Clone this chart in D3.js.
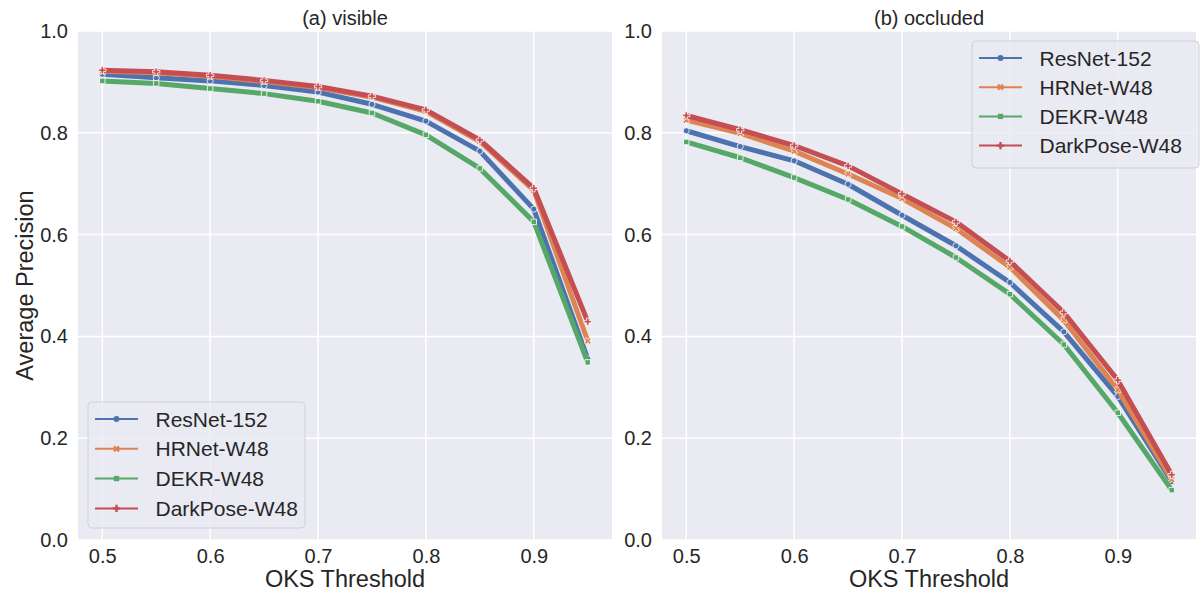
<!DOCTYPE html>
<html lang='en'>
<head>
<meta charset='utf-8'>
<title>OKS threshold vs AP</title>
<script src='https://cdn.jsdelivr.net/npm/d3@7/dist/d3.min.js'></script>
<style>
  body { margin: 0; background: #ffffff; }
  text { font-family: 'Liberation Sans', Arial, sans-serif; fill: #262626; }
</style>
</head>
<body>
<svg id='svg' width='1201' height='593'></svg>
<script>
// thresholds and AP values
var thresholds = [0.50, 0.55, 0.60, 0.65, 0.70, 0.75, 0.80, 0.85, 0.90, 0.95];
var methods = ['ResNet-152', 'HRNet-W48', 'DEKR-W48', 'DarkPose-W48'];
var colors = ['#4C72B0', '#DD8452', '#55A868', '#C44E52'];
var markers = ['circle', 'x', 'square', 'plus'];

var visResNet   = [0.915, 0.908, 0.902, 0.893, 0.880, 0.856, 0.823, 0.764, 0.650, 0.356];
var visHRNet    = [0.921, 0.918, 0.911, 0.901, 0.889, 0.870, 0.842, 0.783, 0.687, 0.391];
var visDEKR     = [0.902, 0.897, 0.887, 0.877, 0.862, 0.839, 0.796, 0.730, 0.625, 0.349];
var visDarkPose = [0.923, 0.920, 0.913, 0.903, 0.891, 0.872, 0.845, 0.786, 0.691, 0.429];

var occResNet   = [0.804, 0.773, 0.745, 0.699, 0.638, 0.578, 0.506, 0.409, 0.282, 0.115];
var occHRNet    = [0.825, 0.799, 0.764, 0.719, 0.671, 0.612, 0.536, 0.432, 0.295, 0.119];
var occDEKR     = [0.782, 0.751, 0.712, 0.669, 0.616, 0.555, 0.483, 0.384, 0.250, 0.098];
var occDarkPose = [0.834, 0.806, 0.775, 0.735, 0.680, 0.625, 0.548, 0.447, 0.314, 0.128];

var xTicks = [0.5, 0.6, 0.7, 0.8, 0.9];
var yTicks = [0.0, 0.2, 0.4, 0.6, 0.8, 1.0];

var panels = [
  { title: '(a) visible', left: 78, right: 612, series: [visResNet, visHRNet, visDEKR, visDarkPose],
    legend: { x: 88, y: 402, w: 217, h: 126, first: 17, step: 29.8 }, ylabel: true },
  { title: '(b) occluded', left: 662, right: 1196, series: [occResNet, occHRNet, occDEKR, occDarkPose],
    legend: { x: 972, y: 41, w: 227, h: 127, first: 17, step: 29.2 }, ylabel: false }
];

var plotTop = 31, plotBottom = 540;
var svg = d3.select('#svg');

function markerPath(kind, size) {
  if (kind === 'circle') return d3.symbol(d3.symbolCircle, size)();
  if (kind === 'square') return d3.symbol(d3.symbolSquare, size)();
  return d3.symbol(d3.symbolCross, size)();
}

panels.forEach(function(p) {
  var x = d3.scaleLinear().domain([0.4775, 0.9725]).range([p.left, p.right]);
  var y = d3.scaleLinear().domain([0, 1.0]).range([plotBottom, plotTop]);
  var g = svg.append('g');

  g.append('rect').attr('x', p.left).attr('y', plotTop)
    .attr('width', p.right - p.left).attr('height', plotBottom - plotTop).attr('fill', '#EAEAF2');

  // grid
  g.selectAll('.gx').data(xTicks).enter().append('line')
    .attr('x1', d => x(d)).attr('x2', d => x(d)).attr('y1', plotTop).attr('y2', plotBottom)
    .attr('stroke', '#ffffff').attr('stroke-width', 1.5);
  g.selectAll('.gy').data(yTicks).enter().append('line')
    .attr('x1', p.left).attr('x2', p.right).attr('y1', d => y(d)).attr('y2', d => y(d))
    .attr('stroke', '#ffffff').attr('stroke-width', 1.5);

  // axes (labels only, seaborn darkgrid has no spines)
  var xAxis = g.append('g').attr('transform', 'translate(0,' + plotBottom + ')')
    .call(d3.axisBottom(x).tickValues(xTicks).tickFormat(d3.format('.1f')).tickSize(0).tickPadding(9));
  var yAxis = g.append('g').attr('transform', 'translate(' + p.left + ',0)')
    .call(d3.axisLeft(y).tickValues(yTicks).tickFormat(d3.format('.1f')).tickSize(0).tickPadding(10));
  [xAxis, yAxis].forEach(function(a) {
    a.select('.domain').remove();
    a.selectAll('text').attr('font-size', 20).attr('fill', '#262626')
      .attr('font-family', "'Liberation Sans', Arial, sans-serif");
  });

  g.append('text').attr('x', (p.left + p.right) / 2).attr('y', 25)
    .attr('text-anchor', 'middle').attr('font-size', 20).text(p.title);
  g.append('text').attr('x', (p.left + p.right) / 2).attr('y', 587)
    .attr('text-anchor', 'middle').attr('font-size', 23.5).text('OKS Threshold');
  if (p.ylabel) {
    g.append('text').attr('transform', 'translate(33,' + ((plotTop + plotBottom) / 2) + ') rotate(-90)')
      .attr('text-anchor', 'middle').attr('font-size', 23.5).text('Average Precision');
  }

  var line = d3.line().x((d, i) => x(thresholds[i])).y(d => y(d));
  p.series.forEach(function(vals, k) {
    g.append('path').datum(vals).attr('d', line)
      .attr('fill', 'none').attr('stroke', colors[k]).attr('stroke-width', 5)
      .attr('stroke-linejoin', 'round');
    g.selectAll('.m' + k).data(vals).enter().append('path')
      .attr('d', markerPath(markers[k], 30))
      .attr('transform', (d, i) => 'translate(' + x(thresholds[i]) + ',' + y(d) + ')' + (markers[k] === 'x' ? ' rotate(45)' : ''))
      .attr('fill', colors[k]).attr('stroke', '#ffffff').attr('stroke-width', 0.8);
  });

  // legend
  var L = p.legend;
  var lg = g.append('g').attr('transform', 'translate(' + L.x + ',' + L.y + ')');
  lg.append('rect').attr('width', L.w).attr('height', L.h).attr('rx', 4)
    .attr('fill', '#EAEAF2').attr('fill-opacity', 0.8).attr('stroke', '#d0d0d8').attr('stroke-width', 1);
  methods.forEach(function(m, k) {
    var yy = L.first + k * L.step;
    lg.append('line').attr('x1', 7).attr('x2', 50).attr('y1', yy).attr('y2', yy)
      .attr('stroke', colors[k]).attr('stroke-width', 2);
    lg.append('path').attr('d', markerPath(markers[k], 28))
      .attr('transform', 'translate(28.5,' + yy + ')' + (markers[k] === 'x' ? ' rotate(45)' : ''))
      .attr('fill', colors[k]);
    lg.append('text').attr('x', 67.5).attr('y', yy + 7.5).attr('font-size', 21).text(m);
  });
});
</script>
</body>
</html>
